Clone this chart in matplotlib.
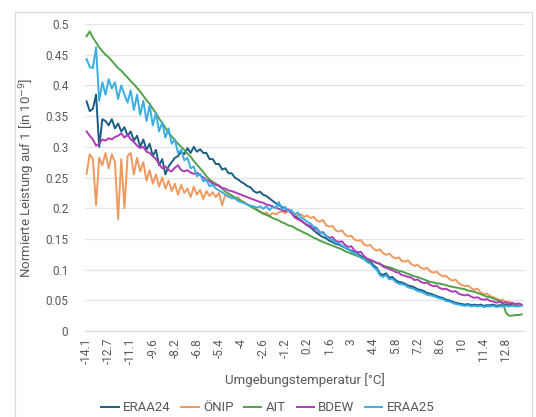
import numpy as np
import matplotlib
matplotlib.use("Agg")
import matplotlib.pyplot as plt
from matplotlib.patches import Rectangle

plt.rcParams['font.family'] = ['Roboto', 'DejaVu Sans']

# Kategorien (Umgebungstemperatur in °C); einige Werte fehlen in den Daten
temps = np.round(np.arange(-14.1, 13.95, 0.1), 1)
fehlend = [-12.2, -11.6, -10.5]
temps = np.array([t for t in temps if t not in fehlend])

# Werte, jeweils jede zweite Kategorie
eraa24 = [0.374, 0.358, 0.362, 0.385, 0.300, 0.345, 0.342, 0.335, 0.345, 0.330,
          0.338, 0.325, 0.332, 0.318, 0.325, 0.310, 0.318, 0.300, 0.312, 0.295,
          0.305, 0.285, 0.295, 0.270, 0.280, 0.255, 0.268, 0.275, 0.282, 0.285,
          0.292, 0.288, 0.298, 0.290, 0.300, 0.292, 0.296, 0.290, 0.290, 0.280,
          0.280, 0.272, 0.272, 0.263, 0.265, 0.257, 0.257, 0.250, 0.247, 0.243,
          0.240, 0.236, 0.234, 0.228, 0.225, 0.227, 0.222, 0.220, 0.216, 0.212,
          0.208, 0.205, 0.202, 0.200, 0.196, 0.192, 0.188, 0.184, 0.180, 0.176,
          0.172, 0.169, 0.164, 0.160, 0.156, 0.153, 0.151, 0.147, 0.145, 0.142,
          0.141, 0.138, 0.136, 0.133, 0.131, 0.128, 0.126, 0.122, 0.120, 0.115,
          0.113, 0.107, 0.103, 0.094, 0.091, 0.094, 0.087, 0.088, 0.083, 0.080,
          0.079, 0.077, 0.074, 0.073, 0.071, 0.068, 0.067, 0.065, 0.062, 0.061,
          0.059, 0.057, 0.055, 0.054, 0.051, 0.050, 0.048, 0.046, 0.045, 0.044,
          0.043, 0.044, 0.042, 0.043, 0.042, 0.043, 0.041, 0.042, 0.042, 0.043,
          0.041, 0.042, 0.042, 0.043, 0.042, 0.043, 0.042, 0.041, 0.042]

onip = [0.256, 0.288, 0.280, 0.205, 0.282, 0.270, 0.290, 0.265, 0.288, 0.275,
        0.182, 0.280, 0.200, 0.285, 0.290, 0.255, 0.282, 0.260, 0.275, 0.245,
        0.262, 0.240, 0.255, 0.235, 0.250, 0.232, 0.245, 0.228, 0.240, 0.222,
        0.238, 0.225, 0.232, 0.218, 0.235, 0.222, 0.230, 0.215, 0.228, 0.220,
        0.226, 0.218, 0.225, 0.205, 0.222, 0.218, 0.220, 0.215, 0.218, 0.212,
        0.210, 0.206, 0.204, 0.200, 0.198, 0.195, 0.190, 0.193, 0.188, 0.192,
        0.190, 0.193, 0.195, 0.192, 0.196, 0.192, 0.190, 0.188, 0.190, 0.186,
        0.188, 0.184, 0.186, 0.180, 0.178, 0.181, 0.172, 0.170, 0.171, 0.164,
        0.162, 0.164, 0.157, 0.154, 0.155, 0.149, 0.147, 0.148, 0.141, 0.139,
        0.140, 0.134, 0.131, 0.133, 0.127, 0.124, 0.126, 0.121, 0.118, 0.120,
        0.114, 0.113, 0.115, 0.109, 0.106, 0.108, 0.103, 0.101, 0.103, 0.097,
        0.095, 0.097, 0.092, 0.089, 0.090, 0.085, 0.082, 0.084, 0.078, 0.075,
        0.073, 0.074, 0.070, 0.067, 0.069, 0.063, 0.060, 0.061, 0.057, 0.055,
        0.053, 0.050, 0.051, 0.047, 0.048, 0.045, 0.044, 0.043, 0.042]

ait = [0.480, 0.488, 0.478, 0.470, 0.462, 0.456, 0.450, 0.446, 0.440, 0.434,
       0.428, 0.424, 0.418, 0.413, 0.407, 0.402, 0.396, 0.390, 0.383, 0.376,
       0.370, 0.362, 0.355, 0.346, 0.339, 0.331, 0.323, 0.317, 0.311, 0.305,
       0.300, 0.295, 0.289, 0.284, 0.277, 0.271, 0.265, 0.259, 0.252, 0.247,
       0.243, 0.240, 0.236, 0.232, 0.227, 0.224, 0.221, 0.218, 0.215, 0.212,
       0.209, 0.206, 0.203, 0.200, 0.197, 0.194, 0.192, 0.189, 0.187, 0.184,
       0.182, 0.180, 0.177, 0.175, 0.172, 0.171, 0.168, 0.165, 0.163, 0.160,
       0.158, 0.155, 0.152, 0.150, 0.147, 0.145, 0.143, 0.141, 0.139, 0.137,
       0.135, 0.133, 0.130, 0.128, 0.126, 0.124, 0.122, 0.120, 0.118, 0.116,
       0.115, 0.113, 0.111, 0.109, 0.107, 0.105, 0.104, 0.102, 0.100, 0.098,
       0.097, 0.095, 0.093, 0.091, 0.089, 0.088, 0.086, 0.084, 0.082, 0.080,
       0.079, 0.078, 0.077, 0.076, 0.075, 0.073, 0.072, 0.071, 0.070, 0.069,
       0.068, 0.066, 0.065, 0.064, 0.062, 0.060, 0.058, 0.056, 0.055, 0.053,
       0.051, 0.049, 0.047, 0.030, 0.025, 0.025, 0.026, 0.026, 0.027]

bdew = [0.325, 0.318, 0.312, 0.302, 0.305, 0.312, 0.310, 0.314, 0.312, 0.316,
        0.318, 0.322, 0.315, 0.320, 0.312, 0.308, 0.302, 0.298, 0.300, 0.292,
        0.290, 0.285, 0.280, 0.272, 0.265, 0.268, 0.262, 0.260, 0.266, 0.270,
        0.262, 0.260, 0.262, 0.258, 0.256, 0.258, 0.254, 0.250, 0.246, 0.244,
        0.240, 0.238, 0.237, 0.233, 0.232, 0.229, 0.228, 0.226, 0.224, 0.222,
        0.220, 0.218, 0.216, 0.214, 0.212, 0.210, 0.209, 0.206, 0.205, 0.203,
        0.201, 0.199, 0.197, 0.195, 0.198, 0.192, 0.185, 0.182, 0.180, 0.176,
        0.173, 0.171, 0.167, 0.166, 0.160, 0.161, 0.155, 0.152, 0.153, 0.147,
        0.145, 0.146, 0.140, 0.137, 0.138, 0.131, 0.128, 0.129, 0.122, 0.118,
        0.116, 0.114, 0.111, 0.110, 0.105, 0.103, 0.101, 0.099, 0.096, 0.095,
        0.091, 0.090, 0.088, 0.087, 0.083, 0.084, 0.080, 0.078, 0.079, 0.075,
        0.073, 0.074, 0.070, 0.068, 0.069, 0.066, 0.064, 0.065, 0.061, 0.059,
        0.058, 0.059, 0.056, 0.054, 0.055, 0.052, 0.051, 0.052, 0.049, 0.048,
        0.046, 0.048, 0.045, 0.047, 0.044, 0.046, 0.044, 0.045, 0.043]

eraa25 = [0.443, 0.430, 0.428, 0.462, 0.375, 0.405, 0.385, 0.410, 0.395, 0.405,
          0.378, 0.400, 0.385, 0.372, 0.392, 0.360, 0.385, 0.352, 0.375, 0.342,
          0.368, 0.335, 0.355, 0.325, 0.340, 0.315, 0.330, 0.305, 0.312, 0.290,
          0.295, 0.278, 0.282, 0.265, 0.268, 0.252, 0.256, 0.244, 0.246, 0.236,
          0.238, 0.232, 0.229, 0.226, 0.222, 0.220, 0.216, 0.217, 0.212, 0.210,
          0.208, 0.206, 0.204, 0.203, 0.201, 0.203, 0.199, 0.203, 0.197, 0.202,
          0.200, 0.210, 0.198, 0.202, 0.195, 0.197, 0.190, 0.193, 0.185, 0.182,
          0.178, 0.175, 0.170, 0.168, 0.161, 0.159, 0.155, 0.150, 0.149, 0.144,
          0.143, 0.139, 0.136, 0.134, 0.129, 0.127, 0.124, 0.119, 0.117, 0.112,
          0.110, 0.104, 0.100, 0.091, 0.088, 0.091, 0.084, 0.085, 0.080, 0.077,
          0.076, 0.075, 0.071, 0.070, 0.068, 0.065, 0.064, 0.062, 0.059, 0.058,
          0.057, 0.055, 0.053, 0.052, 0.049, 0.048, 0.046, 0.044, 0.043, 0.042,
          0.041, 0.042, 0.040, 0.041, 0.040, 0.041, 0.039, 0.040, 0.040, 0.041,
          0.039, 0.040, 0.040, 0.041, 0.040, 0.041, 0.040, 0.040, 0.041]

serien = [("ERAA24", eraa24, "#1B5E84"),
          ("ÖNIP", onip, "#F0995E"),
          ("AIT", ait, "#52A04A"),
          ("BDEW", bdew, "#AE3CB6"),
          ("ERAA25", eraa25, "#3AAEE3")]

fig = plt.figure(figsize=(5.36, 4.17), dpi=100)
ax = fig.add_axes([0.1586, 0.2062, 0.819, 0.7362])

for name, werte, farbe in serien:
    x = 2 * np.arange(len(werte))
    ax.plot(x, werte, color=farbe, lw=1.4, label=name)

ax.set_xlim(-1, len(temps) - 0.5)
ax.set_ylim(0, 0.5)
ax.set_yticks(np.arange(0, 0.51, 0.05))
ax.set_yticklabels([f"{v:g}" for v in np.round(np.arange(0, 0.51, 0.05), 2)])
pos = np.arange(0, len(temps), 14)
ax.set_xticks(pos)
ax.set_xticklabels([f"{temps[p]:g}" for p in pos], rotation=90)
ax.grid(axis='y', color='#E3E3E3', lw=0.9)
ax.set_axisbelow(True)
for s in ['top', 'right', 'left']:
    ax.spines[s].set_visible(False)
ax.spines['bottom'].set_color('#D9D9D9')
ax.tick_params(axis='both', length=0, colors='#595959', labelsize=8.5)
ax.tick_params(axis='x', pad=5)
ax.tick_params(axis='y', pad=12)

ax.set_xlabel("Umgebungstemperatur [°C]", color='#595959', fontsize=9.5, labelpad=6)
ax.set_ylabel("Normierte Leistung auf 1 [in 10$^{-9}$]", color='#595959', fontsize=9.5, labelpad=6)

leg = fig.legend(loc='center', bbox_to_anchor=(0.5, 0.022), ncol=5, frameon=False,
                 fontsize=9.5, handlelength=1.3, columnspacing=0.8, handletextpad=0.35)
for t in leg.get_texts():
    t.set_color('#595959')

fig.patches.append(Rectangle((0.028, -0.01), 0.965, 0.981, transform=fig.transFigure,
                             fill=False, edgecolor='#D9D9D9', lw=0.8))

fig.savefig("out.png", dpi=100)
